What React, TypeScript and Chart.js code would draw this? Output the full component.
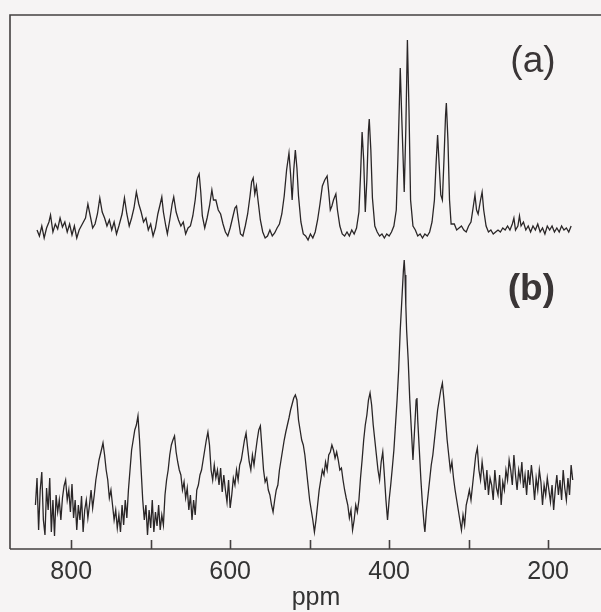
import { useEffect, useRef } from 'react';
import { Chart, registerables } from 'chart.js';

Chart.register(...registerables);

// Spectrum (a): [chemical shift (ppm), intensity]
const spectrumA: [number, number][] = [
  [843, 319], [840, 313], [837, 323], [834, 311], [831, 321], [828, 327], [826, 334], [823, 317], [820, 325], [817, 320],
  [814, 331], [811, 322], [808, 327], [805, 317], [802, 325], [799, 314], [796, 323], [793, 311], [790, 319], [786, 325],
  [782, 331], [779, 345], [776, 333], [773, 321], [770, 325], [767, 335], [764, 351], [761, 337], [758, 331], [755, 323],
  [752, 329], [749, 319], [746, 327], [743, 315], [740, 323], [736, 335], [733, 351], [730, 335], [727, 323], [724, 331],
  [721, 341], [718, 357], [715, 345], [712, 337], [709, 327], [706, 331], [703, 319], [700, 325], [697, 313], [694, 321],
  [691, 335], [688, 345], [686, 352], [684, 337], [681, 323], [679, 315], [676, 329], [673, 345], [671, 352], [668, 337],
  [665, 329], [662, 323], [659, 327], [656, 315], [653, 321], [650, 323], [647, 333], [644, 349], [641, 371], [639, 375],
  [637, 357], [635, 333], [632, 321], [629, 331], [626, 343], [623, 359], [621, 349], [618, 349], [615, 339], [612, 335],
  [609, 325], [606, 317], [603, 313], [600, 321], [597, 331], [594, 341], [592, 343], [590, 331], [587, 315], [584, 313],
  [581, 323], [578, 335], [575, 353], [573, 367], [571, 371], [569, 355], [567, 363], [565, 349], [562, 329], [559, 317],
  [556, 311], [553, 313], [550, 319], [547, 313], [544, 316], [541, 321], [538, 325], [535, 335], [532, 353], [529, 379],
  [526, 396], [524, 375], [522, 349], [520, 379], [518, 399], [516, 381], [514, 353], [511, 327], [508, 315], [505, 313],
  [502, 309], [499, 315], [496, 311], [493, 317], [490, 329], [487, 345], [484, 363], [481, 369], [478, 373], [476, 357],
  [474, 339], [472, 343], [470, 349], [467, 355], [465, 339], [462, 323], [459, 315], [456, 313], [453, 317], [450, 313],
  [447, 319], [444, 315], [441, 321], [438, 337], [436, 373], [434, 417], [432, 389], [430, 337], [428, 369], [426, 419],
  [425, 430], [423, 399], [421, 351], [418, 323], [415, 317], [412, 313], [409, 315], [406, 311], [403, 315], [400, 313],
  [397, 317], [394, 323], [391, 339], [389, 389], [387, 449], [386, 481], [384, 429], [381, 357], [379, 419], [377, 509],
  [375, 439], [373, 349], [370, 323], [367, 319], [364, 313], [361, 315], [358, 311], [355, 315], [352, 313], [349, 317],
  [346, 327], [343, 349], [341, 384], [339, 414], [337, 384], [335, 354], [333, 349], [331, 389], [329, 434], [328, 446],
  [326, 409], [324, 349], [322, 325], [318, 325], [315, 319], [312, 321], [309, 323], [306, 319], [303, 317], [300, 323],
  [297, 327], [294, 343], [292, 354], [290, 339], [288, 335], [285, 349], [283, 357], [281, 339], [278, 323], [275, 317],
  [272, 319], [269, 315], [266, 317], [263, 319], [260, 317], [257, 321], [254, 319], [251, 323], [248, 319], [245, 325],
  [243, 331], [241, 319], [238, 323], [236, 333], [234, 323], [231, 327], [228, 319], [225, 323], [222, 317], [219, 323],
  [216, 319], [213, 325], [210, 317], [207, 321], [204, 315], [201, 323], [198, 319], [195, 323], [192, 317], [189, 321],
  [186, 317], [183, 323], [180, 319], [177, 321], [174, 317], [171, 323],
];

// Spectrum (b): [chemical shift (ppm), intensity]
const spectrumB: [number, number][] = [
  [845, 44], [843, 71], [841, 19], [839, 59], [837, 77], [835, 29], [833, 14], [831, 61], [829, 39], [827, 71],
  [825, 17], [823, 49], [821, 13], [819, 54], [817, 37], [815, 49], [813, 29], [811, 51], [809, 63], [807, 69],
  [805, 49], [803, 59], [801, 37], [799, 65], [797, 31], [795, 49], [793, 19], [791, 44], [789, 29], [787, 53],
  [785, 17], [783, 39], [781, 49], [779, 31], [777, 44], [775, 59], [773, 41], [771, 54], [769, 69], [767, 79],
  [765, 89], [762, 99], [760, 106], [758, 94], [756, 79], [754, 69], [752, 51], [750, 59], [748, 44], [746, 29],
  [744, 39], [742, 21], [740, 34], [738, 17], [736, 44], [734, 24], [732, 49], [730, 31], [728, 59], [726, 79],
  [724, 99], [722, 109], [720, 119], [718, 124], [716, 133], [714, 109], [712, 79], [710, 49], [708, 29], [706, 44],
  [704, 14], [702, 39], [700, 21], [698, 49], [696, 17], [694, 37], [692, 23], [690, 44], [688, 19], [686, 34],
  [684, 24], [682, 54], [680, 69], [678, 79], [676, 94], [674, 104], [672, 109], [670, 113], [668, 97], [666, 87],
  [664, 79], [662, 74], [660, 59], [658, 67], [656, 51], [654, 61], [652, 39], [650, 54], [648, 29], [646, 49],
  [644, 34], [642, 59], [640, 64], [638, 74], [636, 79], [634, 89], [632, 99], [630, 109], [628, 117], [626, 104],
  [624, 79], [622, 69], [620, 84], [618, 71], [616, 79], [614, 64], [612, 81], [610, 57], [608, 74], [606, 59],
  [604, 47], [602, 69], [600, 41], [598, 54], [596, 71], [594, 64], [592, 79], [590, 69], [588, 84], [586, 89],
  [584, 99], [582, 109], [580, 116], [578, 101], [576, 87], [574, 79], [572, 94], [570, 84], [568, 97], [566, 109],
  [564, 119], [562, 123], [560, 101], [558, 79], [556, 67], [554, 71], [552, 59], [550, 54], [548, 44], [546, 37],
  [544, 49], [542, 59], [540, 64], [538, 79], [536, 89], [534, 99], [532, 109], [530, 117], [528, 124], [526, 131],
  [524, 139], [522, 145], [520, 151], [518, 154], [516, 149], [514, 129], [512, 119], [510, 109], [508, 104], [506, 94],
  [504, 79], [502, 64], [500, 49], [498, 39], [496, 29], [494, 17], [492, 29], [490, 44], [488, 59], [486, 69],
  [484, 79], [482, 74], [480, 87], [478, 79], [476, 94], [474, 97], [472, 104], [470, 99], [468, 91], [466, 97],
  [464, 89], [462, 79], [460, 81], [458, 69], [456, 59], [454, 51], [452, 44], [450, 31], [448, 39], [446, 19],
  [444, 29], [442, 44], [440, 37], [438, 49], [436, 71], [434, 89], [432, 109], [430, 124], [428, 134], [426, 149],
  [424, 156], [422, 144], [420, 124], [418, 109], [416, 94], [414, 79], [412, 69], [410, 87], [408, 97], [406, 74],
  [404, 49], [402, 29], [400, 49], [398, 64], [396, 81], [394, 99], [392, 124], [390, 149], [388, 179], [386, 219],
  [384, 249], [382, 279], [381, 289], [380, 274], [379, 244], [378, 219], [376, 189], [374, 149], [372, 119], [370, 89],
  [368, 119], [366, 149], [365, 151], [364, 129], [362, 99], [360, 69], [358, 44], [356, 24], [355, 17], [353, 39],
  [351, 54], [349, 69], [347, 84], [345, 94], [343, 109], [341, 124], [339, 139], [337, 149], [335, 159], [333, 166],
  [331, 149], [329, 129], [327, 109], [325, 94], [323, 79], [321, 87], [319, 71], [317, 59], [315, 49], [313, 39],
  [311, 29], [309, 19], [307, 34], [305, 24], [303, 44], [301, 51], [299, 59], [297, 49], [295, 64], [293, 79],
  [291, 94], [289, 101], [287, 79], [285, 69], [283, 87], [281, 74], [279, 59], [277, 79], [275, 54], [273, 71],
  [271, 64], [269, 49], [267, 79], [265, 61], [263, 54], [261, 74], [259, 44], [257, 67], [255, 59], [253, 79],
  [251, 69], [249, 89], [247, 79], [245, 64], [243, 94], [241, 74], [239, 59], [237, 79], [235, 69], [233, 87],
  [231, 61], [229, 74], [227, 54], [225, 79], [223, 64], [221, 84], [219, 69], [217, 49], [215, 71], [213, 59],
  [211, 79], [209, 67], [207, 44], [205, 64], [203, 54], [201, 71], [199, 59], [197, 47], [195, 64], [193, 39],
  [191, 59], [189, 74], [187, 54], [185, 69], [183, 49], [181, 79], [179, 61], [177, 49], [175, 71], [173, 54],
  [171, 84], [169, 69],
];

const tickValues = [800, 700, 600, 500, 400, 300, 200];
const tickLabels = ['800', '', '600', '', '400', '', '200'];
const xAxisTitle = 'ppm';
const panelLabels = ['(a)', '(b)'];

const FONT = '"Liberation Sans", Arial, Helvetica, sans-serif';
const INK = '#2a2627';

const framePlugin = {
  id: 'frame',
  afterDatasetsDraw(chart: any) {
    const { ctx, chartArea, scales } = chart;
    const xs = scales.x;
    const ys = scales.y;
    ctx.save();
    ctx.strokeStyle = '#444040';
    ctx.lineWidth = 1.6;
    ctx.beginPath();
    ctx.moveTo(chartArea.left, chartArea.bottom);
    ctx.lineTo(chartArea.left, chartArea.top);
    ctx.lineTo(chartArea.right, chartArea.top);
    ctx.moveTo(chartArea.left, chartArea.bottom);
    ctx.lineTo(chartArea.right, chartArea.bottom);
    xs.ticks.forEach((t: any) => {
      const px = Math.round(xs.getPixelForValue(t.value)) + 0.5;
      ctx.moveTo(px, chartArea.bottom);
      ctx.lineTo(px, chartArea.bottom - 9);
    });
    ctx.stroke();

    ctx.fillStyle = '#3a3536';
    ctx.textAlign = 'center';
    ctx.textBaseline = 'middle';
    ctx.font = `37px ${FONT}`;
    ctx.fillText(panelLabels[0], xs.getPixelForValue(219), ys.getPixelForValue(487));
    ctx.font = `bold 37px ${FONT}`;
    ctx.fillText(panelLabels[1], xs.getPixelForValue(221), ys.getPixelForValue(259));
    ctx.restore();
  },
};

export default function App() {
  const ref = useRef<HTMLCanvasElement>(null);

  useEffect(() => {
    const chart = new Chart(ref.current as HTMLCanvasElement, {
      type: 'line',
      data: {
        datasets: [
          {
            label: panelLabels[0],
            data: spectrumA.map(([x, y]) => ({ x, y })),
            borderColor: INK,
            borderWidth: 1.3,
            pointRadius: 0,
            tension: 0,
            fill: false,
          },
          {
            label: panelLabels[1],
            data: spectrumB.map(([x, y]) => ({ x, y })),
            borderColor: INK,
            borderWidth: 1.3,
            pointRadius: 0,
            tension: 0,
            fill: false,
          },
        ],
      },
      options: {
        responsive: false,
        animation: false,
        devicePixelRatio: 1,
        layout: { padding: { left: 10, top: 15, right: 0, bottom: 0 } },
        plugins: { legend: { display: false }, tooltip: { enabled: false } },
        scales: {
          x: {
            type: 'linear',
            reverse: true,
            min: 107,
            max: 877,
            afterBuildTicks: (scale: any) => {
              scale.ticks = tickValues.map((v) => ({ value: v }));
            },
            ticks: {
              autoSkip: false,
              maxRotation: 0,
              padding: 10.5,
              color: '#333',
              font: { family: FONT, size: 25, lineHeight: 1 },
              callback: (v: any) => {
                const i = tickValues.indexOf(Number(v));
                return i >= 0 ? tickLabels[i] : '';
              },
            },
            grid: { display: false, drawTicks: false },
            border: { display: false },
            title: {
              display: true,
              text: xAxisTitle,
              color: '#333',
              font: { family: FONT, size: 25, lineHeight: 0.24 },
              padding: { top: 0, bottom: 11 },
            },
          },
          y: { display: false, min: 0, max: 534 },
        },
      },
      plugins: [framePlugin],
    } as any);
    return () => chart.destroy();
  }, []);

  return (
    <div
      style={{
        position: 'absolute',
        left: 0,
        top: 0,
        width: 601,
        height: 612,
        overflow: 'hidden',
        background: '#f6f4f4',
      }}
    >
      <canvas ref={ref} width={622} height={612} style={{ display: 'block' }} />
    </div>
  );
}
